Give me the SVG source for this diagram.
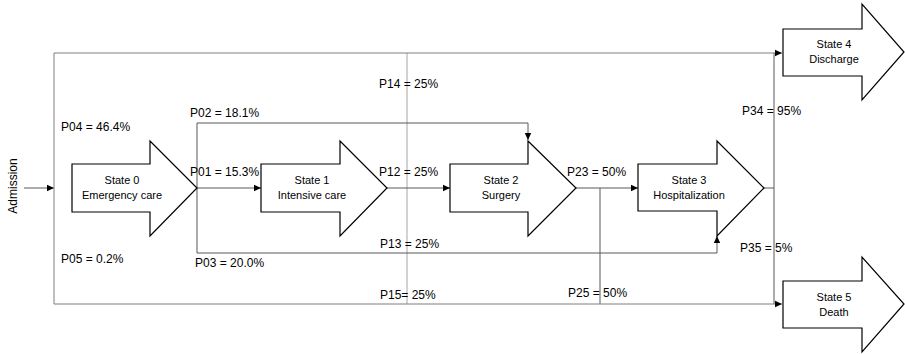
<svg xmlns="http://www.w3.org/2000/svg" width="905" height="354" viewBox="0 0 905 354">
<style>
.st{fill:#fff;stroke:#000;stroke-width:1.2}
.c{fill:none;stroke:#595959;stroke-width:1}
.o{fill:none;stroke:#7f7f7f;stroke-width:1}
.g{fill:none;stroke:#a6a6a6;stroke-width:1}
.lbl{font-family:"Liberation Sans",Arial,sans-serif;font-size:12px;fill:#000}
.nl{font-family:"Liberation Sans",Arial,sans-serif;font-size:11px;fill:#000;text-anchor:middle}
</style>
<defs>
<marker id="ah" markerUnits="userSpaceOnUse" markerWidth="8" markerHeight="8" refX="7" refY="4" orient="auto">
<path d="M0,0.8 L7,4 L0,7.2 Z" fill="#000"/>
</marker>
</defs>
<g id="connectors">
<line class="g" x1="407" y1="53" x2="407" y2="304"/>
<line class="c" x1="600" y1="188" x2="600" y2="304"/>
<line class="c" x1="774" y1="53" x2="774" y2="304"/>
<line class="c" x1="24" y1="188" x2="54" y2="188" marker-end="url(#ah)"/>
<line class="o" x1="54" y1="53" x2="54" y2="304"/>
<line class="o" x1="54" y1="53" x2="782" y2="53" marker-end="url(#ah)"/>
<line class="o" x1="54" y1="304" x2="782" y2="304" marker-end="url(#ah)"/>
<line class="c" x1="197" y1="188" x2="261" y2="188" marker-end="url(#ah)"/>
<line class="c" x1="387" y1="188" x2="450" y2="188" marker-end="url(#ah)"/>
<line class="c" x1="576" y1="188" x2="638" y2="188" marker-end="url(#ah)"/>
<line class="c" x1="764" y1="188" x2="774" y2="188"/>
<path class="c" d="M197,188 V123 H528 V140" marker-end="url(#ah)"/>
<path class="c" d="M197,188 V253 H717 V236" marker-end="url(#ah)"/>
</g>
<g id="state0">
<path class="st" d="M72,164 H150 V141 L197,188 L150,236 V212 H72 Z"/>
<text class="nl" x="122" y="184">State 0</text>
<text class="nl" x="122" y="199">Emergency care</text>
</g>
<g id="state1">
<path class="st" d="M261,164 H340 V141 L387,188 L340,236 V212 H261 Z"/>
<text class="nl" x="312" y="184">State 1</text>
<text class="nl" x="312" y="199">Intensive care</text>
</g>
<g id="state2">
<path class="st" d="M450,164 H528 V141 L576,188 L528,236 V212 H450 Z"/>
<text class="nl" x="501" y="184">State 2</text>
<text class="nl" x="501" y="199">Surgery</text>
</g>
<g id="state3">
<path class="st" d="M638,164 H717 V141 L764,188 L717,236 V211 H638 Z"/>
<text class="nl" x="689" y="184">State 3</text>
<text class="nl" x="689" y="199">Hospitalization</text>
</g>
<g id="state4">
<path class="st" d="M783,29 H862 V4 L904,52 L862,100 V76 H783 Z"/>
<text class="nl" x="834" y="48">State 4</text>
<text class="nl" x="834" y="63">Discharge</text>
</g>
<g id="state5">
<path class="st" d="M783,281 H862 V257 L904,304 L862,352 V328 H783 Z"/>
<text class="nl" x="834" y="301">State 5</text>
<text class="nl" x="834" y="316">Death</text>
</g>
<g id="labels">
<text class="lbl" x="0" y="0" transform="translate(17,186) rotate(-90)" text-anchor="middle" font-size="13">Admission</text>
<text class="lbl" x="61" y="131">P04 = 46.4%</text>
<text class="lbl" x="190" y="117">P02 = 18.1%</text>
<text class="lbl" x="190" y="176">P01 = 15.3%</text>
<text class="lbl" x="61" y="263">P05 = 0.2%</text>
<text class="lbl" x="195" y="267">P03 = 20.0%</text>
<text class="lbl" x="379" y="176">P12 = 25%</text>
<text class="lbl" x="380" y="248">P13 = 25%</text>
<text class="lbl" x="379" y="88">P14 = 25%</text>
<text class="lbl" x="567" y="176">P23 = 50%</text>
<text class="lbl" x="742" y="115">P34 = 95%</text>
<text class="lbl" x="740" y="252">P35 = 5%</text>
<text class="lbl" x="380" y="299">P15= 25%</text>
<text class="lbl" x="568" y="297">P25 = 50%</text>
</g>
</svg>
